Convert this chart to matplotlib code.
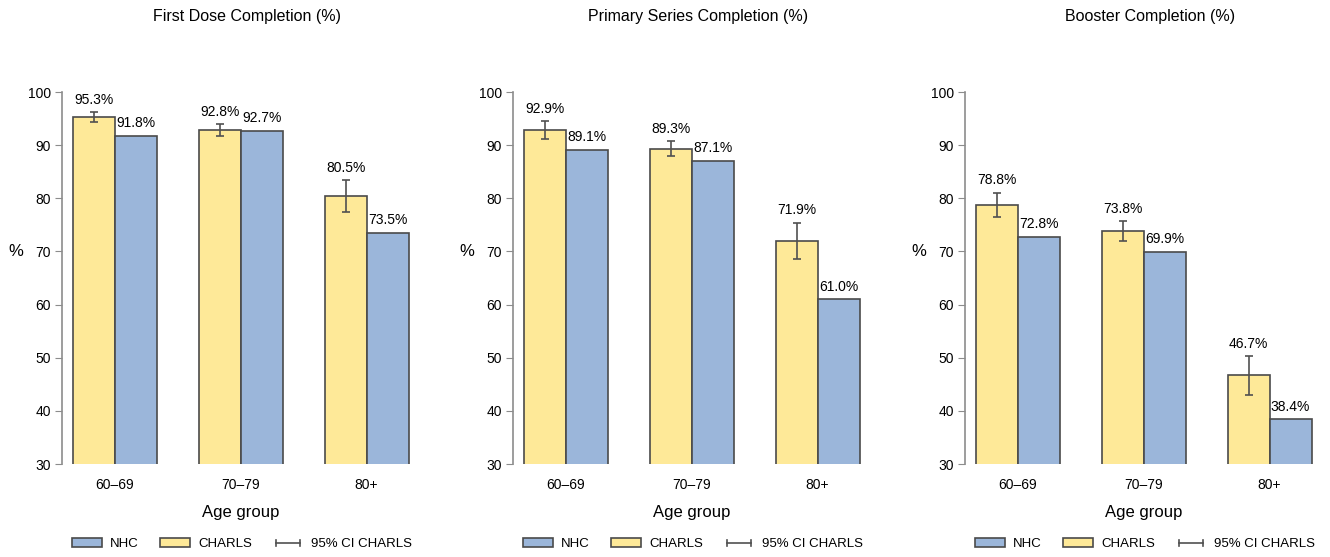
import matplotlib
matplotlib.use("Agg")
import matplotlib.pyplot as plt
from matplotlib.legend_handler import HandlerBase
from matplotlib.lines import Line2D
from matplotlib.patches import Patch
import matplotlib.transforms as mtransforms

plt.rcParams['font.family'] = ['Liberation Sans', 'DejaVu Sans']

age_groups = ['60–69', '70–79', '80+']
panel_titles = ['First Dose Completion (%)',
                'Primary Series Completion (%)',
                'Booster Completion (%)']

charls_values = [[95.3, 92.8, 80.5],
                 [92.9, 89.3, 71.9],
                 [78.8, 73.8, 46.7]]
charls_ci_low = [[94.4, 91.7, 77.5],
                 [91.2, 87.9, 68.6],
                 [76.5, 71.9, 43.0]]
charls_ci_high = [[96.2, 93.9, 83.4],
                  [94.5, 90.7, 75.4],
                  [81.0, 75.7, 50.3]]
nhc_values = [[91.8, 92.7, 73.5],
              [89.1, 87.1, 61.0],
              [72.8, 69.9, 38.4]]

yellow = '#fee998'
blue = '#9bb6da'
edge = '#4a4a4a'
err_col = '#505050'
axis_col = '#8c8c8c'


class HandlerCI(HandlerBase):
    # horizontal bar with end caps, standing in for the CI whiskers
    def create_artists(self, legend, orig_handle, xdescent, ydescent,
                       width, height, fontsize, trans):
        y = height / 2 - ydescent
        x0, x1 = -xdescent + width * 0.1, -xdescent + width * 0.9
        cap = height * 0.3
        arts = [Line2D([x0, x1], [y, y]),
                Line2D([x0, x0], [y - cap, y + cap]),
                Line2D([x1, x1], [y - cap, y + cap])]
        for a in arts:
            a.set_color(err_col)
            a.set_linewidth(1.2)
            a.set_transform(trans)
        return arts


W, H = 1330, 557
fig = plt.figure(figsize=(W / 100, H / 100), dpi=100)

lefts = [62, 513, 965]
bw = 1 / 3
xs = range(len(age_groups))

for p in range(3):
    ax = fig.add_axes([lefts[p] / W, 93 / H, 370 / W, 372 / H])
    ch = charls_values[p]
    nh = nhc_values[p]
    lo = [v - l for v, l in zip(ch, charls_ci_low[p])]
    hi = [h - v for v, h in zip(ch, charls_ci_high[p])]
    pos_c = [x - bw / 2 for x in xs]
    pos_n = [x + bw / 2 for x in xs]
    ax.bar(pos_c, ch, width=bw, color=yellow, edgecolor=edge, linewidth=1.2, zorder=2)
    ax.bar(pos_n, nh, width=bw, color=blue, edgecolor=edge, linewidth=1.2, zorder=2)
    ax.errorbar(pos_c, ch, yerr=[lo, hi], fmt='none', ecolor=err_col,
                elinewidth=1.2, capsize=3, capthick=1.2, zorder=3)
    for x, top, v in zip(pos_c, charls_ci_high[p], ch):
        ax.annotate(f'{v:.1f}%', (x, top), xytext=(0, 4), textcoords='offset points',
                    ha='center', va='bottom', fontsize=10)
    for x, v in zip(pos_n, nh):
        ax.annotate(f'{v:.1f}%', (x, v), xytext=(0, 4), textcoords='offset points',
                    ha='center', va='bottom', fontsize=10)

    ax.set_ylim(30, 100)
    ax.set_xlim(-0.42, 2.52)
    ax.set_yticks(range(30, 101, 10))
    ax.set_xticks(list(xs))
    ax.set_xticklabels(age_groups, fontsize=10)
    ax.tick_params(axis='x', length=0, pad=10)
    ax.tick_params(axis='y', length=5, color=axis_col, labelsize=10, pad=3)
    for s in ['top', 'right', 'bottom']:
        ax.spines[s].set_visible(False)
    ax.spines['left'].set_color(axis_col)
    ax.spines['left'].set_linewidth(1.2)

    ax.text(-0.125, 0.57, '%', transform=ax.transAxes, fontsize=12,
            ha='center', va='center')
    ax.text(0.5, 1.0 + 75 / 372, panel_titles[p], transform=ax.transAxes,
            fontsize=11.5, ha='center', va='center')
    tr = mtransforms.blended_transform_factory(ax.transData, fig.transFigure)
    ax.text(1, 1 - 512 / H, 'Age group', transform=tr, fontsize=12,
            ha='center', va='center')

    handles = [Patch(facecolor=blue, edgecolor=edge, linewidth=1.2),
               Patch(facecolor=yellow, edgecolor=edge, linewidth=1.2),
               Line2D([], [], color=err_col)]
    leg_x = (lefts[p] + 180) / W
    fig.legend(handles, ['NHC', 'CHARLS', '95% CI CHARLS'],
               handler_map={Line2D: HandlerCI()},
               loc='center', bbox_to_anchor=(leg_x, 1 - 544 / H), ncol=3,
               frameon=False, fontsize=9.5, handlelength=2.3, handleheight=0.75,
               handletextpad=0.6, columnspacing=1.6)

fig.savefig('out.png', dpi=100)
